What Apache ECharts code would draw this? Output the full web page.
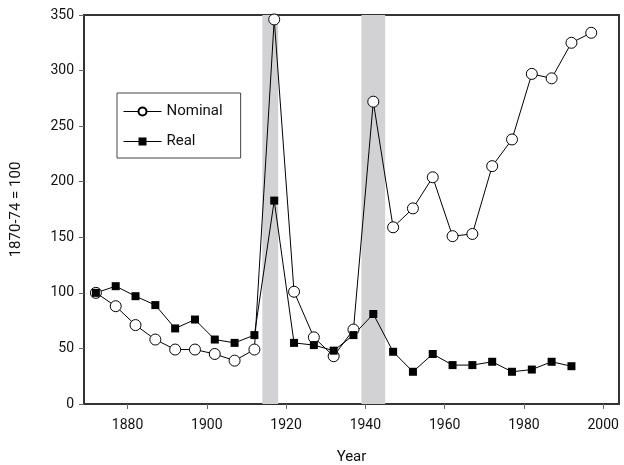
<!DOCTYPE html>
<html>
<head>
<meta charset="utf-8">
<script src="https://cdn.jsdelivr.net/npm/echarts@6/dist/echarts.min.js"></script>
<style>
  html, body { margin: 0; padding: 0; background: #fff; }
  #chart { width: 624px; height: 465px; }
</style>
</head>
<body>
<div id="chart"></div>
<script>
// five-year averages, plotted at mid-period
const years = [1872, 1877, 1882, 1887, 1892, 1897, 1902, 1907, 1912, 1917, 1922, 1927, 1932,
  1937, 1942, 1947, 1952, 1957, 1962, 1967, 1972, 1977, 1982, 1987, 1992, 1997]
const nominal = [100, 88, 71, 58, 49, 49, 45, 39, 49, 346, 101, 60, 43,
  67, 272, 159, 176, 204, 151, 153, 214, 238, 297, 293, 325, 334]
const real = [100, 106, 97, 89, 68, 76, 58, 55, 62, 183, 55, 53, 48,
  62, 81, 47, 29, 45, 35, 35, 38, 29, 31, 38, 34]
const warBands = [[1914, 1918], [1939, 1945]]
const xTicks = [1880, 1900, 1920, 1940, 1960, 1980, 2000]

const font = 'Roboto, "DejaVu Sans", sans-serif'
const chart = echarts.init(document.getElementById('chart'))

chart.setOption({
  animation: false,
  grid: {
    left: 84,
    right: 5,
    top: 15,
    bottom: 61,
    outerBoundsMode: 'none',
    show: true,
    borderColor: '#333',
    borderWidth: 2,
  },
  legend: {
    orient: 'vertical',
    left: 117,
    top: 93,
    itemWidth: 38,
    itemHeight: 10,
    itemGap: 15,
    padding: [11, 18, 9, 6],
    borderColor: '#444',
    borderWidth: 1,
    lineStyle: { width: 1 },
    textStyle: { fontFamily: font, fontSize: 15, color: '#111' },
    data: ['Nominal', 'Real'],
  },
  xAxis: {
    type: 'value',
    min: 1869,
    max: 2004,
    name: 'Year',
    nameLocation: 'middle',
    nameGap: 46,
    nameTextStyle: { fontFamily: font, fontSize: 15, color: '#111' },
    axisLine: { lineStyle: { color: '#333', width: 2 } },
    axisTick: { customValues: xTicks, length: 5, lineStyle: { color: '#666' } },
    axisLabel: {
      customValues: xTicks,
      formatter: (v) => String(v),
      margin: 14,
      fontFamily: font,
      fontSize: 14,
      color: '#111',
    },
    splitLine: { show: false },
  },
  yAxis: {
    type: 'value',
    min: 0,
    max: 350,
    interval: 50,
    name: '1870-74 = 100',
    nameLocation: 'middle',
    nameGap: 60,
    nameTextStyle: { fontFamily: font, fontSize: 15, color: '#111' },
    axisLine: { show: true, lineStyle: { color: '#333', width: 2 } },
    axisTick: { show: true, length: 5, lineStyle: { color: '#666' } },
    axisLabel: { margin: 10, fontFamily: font, fontSize: 14, color: '#111' },
    splitLine: { show: false },
  },
  series: [
    {
      name: 'Nominal',
      type: 'line',
      data: years.map((y, i) => [y, nominal[i]]),
      symbol: 'circle',
      symbolSize: 11,
      showAllSymbol: true,
      lineStyle: { color: '#000', width: 1 },
      itemStyle: { color: '#fff', borderColor: '#000', borderWidth: 1 },
      markArea: {
        silent: true,
        itemStyle: { color: '#d2d2d4' },
        data: warBands.map((b) => [{ xAxis: b[0] }, { xAxis: b[1] }]),
      },
    },
    {
      name: 'Real',
      type: 'line',
      data: real.map((v, i) => [years[i], v]),
      symbol: 'rect',
      symbolSize: 8,
      showAllSymbol: true,
      lineStyle: { color: '#000', width: 1 },
      itemStyle: { color: '#000' },
    },
  ],
})
</script>
</body>
</html>
